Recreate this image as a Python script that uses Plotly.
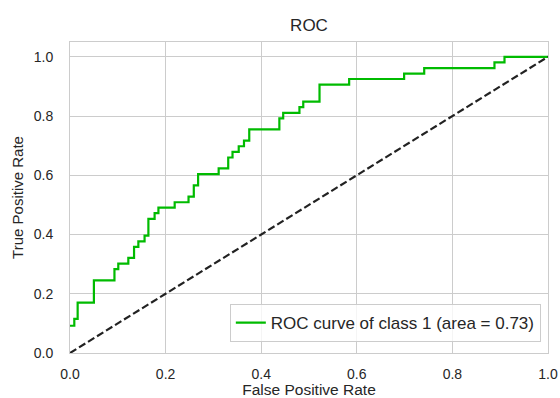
import plotly.graph_objects as go

# ROC curve vertices
fpr = [0.0, 0.009, 0.016, 0.050, 0.093, 0.101, 0.122, 0.134, 0.143, 0.156,
       0.164, 0.177, 0.185, 0.219, 0.248, 0.259, 0.268, 0.311, 0.331, 0.340,
       0.353, 0.364, 0.375, 0.438, 0.446, 0.480, 0.488, 0.522, 0.584, 0.699,
       0.741, 0.888, 0.909, 1.0]
tpr = [0.092, 0.115, 0.170, 0.245, 0.283, 0.302, 0.321, 0.358, 0.377, 0.396,
       0.453, 0.472, 0.491, 0.509, 0.528, 0.566, 0.604, 0.623, 0.660, 0.679,
       0.698, 0.717, 0.755, 0.792, 0.811, 0.830, 0.849, 0.906, 0.925, 0.943,
       0.962, 0.981, 1.0, 1.0]
chance = [0.0, 1.0]
auc_label = "ROC curve of class 1 (area = 0.73)"
ticks = [0.0, 0.2, 0.4, 0.6, 0.8, 1.0]
tick_text = ["0.0", "0.2", "0.4", "0.6", "0.8", "1.0"]

font = "Arial, Liberation Sans, sans-serif"
txt = "#262626"

fig = go.Figure()
fig.add_trace(go.Scatter(x=fpr, y=tpr, mode="lines", line_shape="hv",
                         line=dict(color="#00bb00", width=2.2), name=auc_label))
fig.add_trace(go.Scatter(x=chance, y=chance, mode="lines", showlegend=False,
                         line=dict(color="#222222", width=2.2, dash="7.4px,3.2px")))

fig.update_layout(
    width=560, height=398,
    margin=dict(l=70, r=12, t=42, b=45, autoexpand=False),
    paper_bgcolor="white", plot_bgcolor="white",
    font=dict(family=font, size=14, color=txt),
    title=dict(text="ROC", x=(70 + 548) / 2 / 560, xanchor="center",
               y=1 - 25 / 398, yanchor="middle", font=dict(size=17, color=txt)),
    legend=dict(x=0.985, y=0.035, xanchor="right", yanchor="bottom",
                bgcolor="rgba(255,255,255,0.8)", bordercolor="#cccccc",
                borderwidth=1, font=dict(size=17, color=txt)),
    xaxis=dict(range=[0, 1], tickvals=ticks, ticktext=tick_text,
               tickfont=dict(size=14, color=txt),
               showgrid=True, gridcolor="#cccccc", gridwidth=1,
               showline=True, mirror=True, linecolor="#cccccc", linewidth=1,
               zeroline=False, ticklabelstandoff=8, automargin=False,
               title=dict(text="False Positive Rate", standoff=2,
                          font=dict(size=15.5, color=txt))),
    yaxis=dict(range=[0, 1.05], tickvals=ticks, ticktext=tick_text,
               tickfont=dict(size=14, color=txt),
               showgrid=True, gridcolor="#cccccc", gridwidth=1,
               showline=True, mirror=True, linecolor="#cccccc", linewidth=1,
               zeroline=False, ticklabelstandoff=13, automargin=False,
               title=dict(text="True Positive Rate", standoff=6,
                          font=dict(size=15, color=txt))),
)

fig.write_html("out.html", config={"displayModeBar": False},
               post_script="document.body.style.margin='0';document.body.style.overflow='hidden';")
